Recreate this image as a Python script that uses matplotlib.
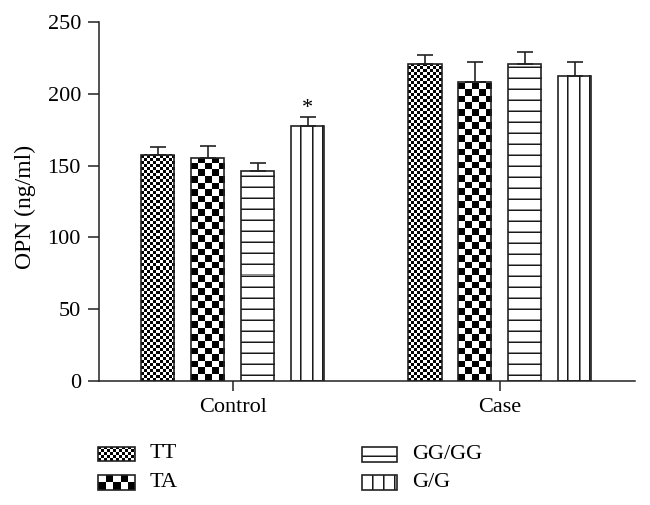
import numpy as np
import matplotlib
matplotlib.use("Agg")
import matplotlib.pyplot as plt

plt.rcParams["font.family"] = ["Liberation Serif", "DejaVu Serif"]

groups = ["Control", "Case"]
genotypes = ["TT", "TA", "GG/GG", "G/G"]
patterns = ["fine", "coarse", "hlines", "vlines"]

tt_mean = [157.4, 220.5]
tt_err = [5.6, 6.5]
ta_mean = [155.0, 208.4]
ta_err = [8.9, 14.0]
gg_mean = [146.4, 220.5]
gg_err = [5.2, 8.3]
g_mean = [177.8, 212.6]
g_err = [6.2, 9.8]
g_marks = ["*", ""]

means = [tt_mean, ta_mean, gg_mean, g_mean]
errs = [tt_err, ta_err, gg_err, g_err]

EDGE = "#222222"


def make_pattern(kind, w, h):
    ii, jj = np.mgrid[0:h, 0:w]
    img = np.ones((h, w))
    if kind == "fine":
        img = ((ii // 3 + jj // 3) % 2).astype(float)
    elif kind == "coarse":
        sq = w / 5.0
        img = (((ii / sq).astype(int) + (jj / sq).astype(int)) % 2).astype(float)
    elif kind == "hlines":
        img[ii % 11 == 5] = 0.1
        img[ii % 11 == 6] = 0.55
    elif kind == "vlines":
        for f in (0.3, 0.62, 0.92):
            c = int(w * f)
            img[:, c] = 0.1
            if c + 1 < w:
                img[:, c + 1] = 0.5
    return img


def fill_pattern(ax, x0, y0, x1, y1, kind):
    (px0, py0), (px1, py1) = ax.transData.transform([(x0, y0), (x1, y1)])
    w = max(int(round(abs(px1 - px0))), 1)
    h = max(int(round(abs(py1 - py0))), 1)
    img = make_pattern(kind, w, h)
    ybot, ytop = (y0, y1) if py1 > py0 else (y1, y0)
    ax.imshow(img, cmap="gray", vmin=0, vmax=1, origin="lower",
              extent=(x0, x1, ybot, ytop), interpolation="nearest",
              aspect="auto", zorder=1)


fig = plt.figure(figsize=(6.5, 5.05), dpi=100)
ax = fig.add_axes([0.1523, 0.2455, 0.8247, 0.7109])
ax.set_xlim(-0.501, 1.506)
ax.set_ylim(0, 250)

x = np.arange(len(groups))
width = 0.124
step = 0.187

for k, (m, e, pat) in enumerate(zip(means, errs, patterns)):
    xs = x + (k - 1.5) * step
    for xi, mi in zip(xs, m):
        fill_pattern(ax, xi - width / 2, 0, xi + width / 2, mi, pat)
    ax.bar(xs, m, width=width, fill=False, edgecolor=EDGE, linewidth=1.2, zorder=2)
    ax.errorbar(xs, m, yerr=[np.zeros(len(m)), e], fmt="none", ecolor=EDGE,
                elinewidth=1.2, capsize=6, capthick=1.2, zorder=3)

xs = x + 1.5 * step
for xi, mi, ei, mk in zip(xs, g_mean, g_err, g_marks):
    if mk:
        ax.annotate(mk, (xi, mi + ei), xytext=(0, -1), textcoords="offset points",
                    ha="center", va="bottom", fontsize=16)

ax.set_xlim(-0.501, 1.506)
ax.set_ylim(0, 250)
ax.set_yticks([0, 50, 100, 150, 200, 250])
ax.set_xticks(x)
ax.set_xticklabels(groups)
ax.spines["top"].set_visible(False)
ax.spines["right"].set_visible(False)
for s in ("left", "bottom"):
    ax.spines[s].set_linewidth(1.1)
    ax.spines[s].set_color(EDGE)
ax.tick_params(axis="y", length=8, width=1.1, pad=5, labelsize=16, color=EDGE)
ax.tick_params(axis="x", length=7, width=1.1, pad=5, labelsize=16, color=EDGE)
ax.set_ylabel("OPN (ng/ml)", fontsize=17)
ax.yaxis.set_label_coords(-0.117, 0.485)

# legend drawn in figure pixel space
lax = fig.add_axes([0, 0, 1, 1])
lax.set_xlim(0, 650)
lax.set_ylim(505, 0)
lax.axis("off")
legend_pos = [(98, 447, 135, 461), (98, 475, 135, 490),
              (362, 447, 397, 462), (362, 475, 397, 490)]
for (lx0, ly0, lx1, ly1), pat, name in zip(legend_pos, patterns, genotypes):
    fill_pattern(lax, lx0, ly0, lx1, ly1, pat)
    lax.add_patch(plt.Rectangle((lx0, ly0), lx1 - lx0, ly1 - ly0, fill=False,
                                edgecolor=EDGE, linewidth=1.2, zorder=2))
    lax.text(lx1 + 15, (ly0 + ly1) / 2, name, fontsize=16, va="center", ha="left")
lax.set_xlim(0, 650)
lax.set_ylim(505, 0)

fig.savefig("out.png", dpi=100)
